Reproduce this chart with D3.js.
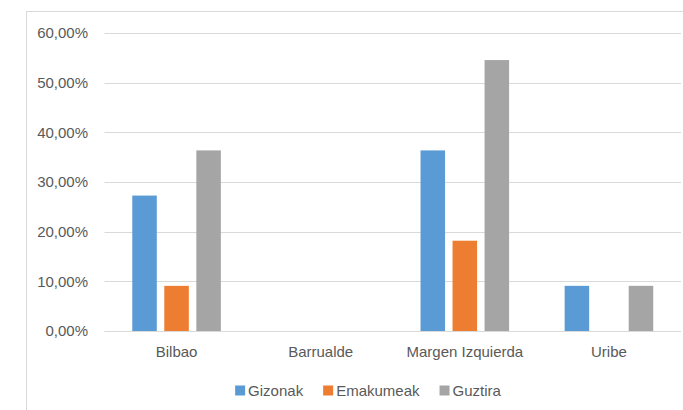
<!DOCTYPE html>
<html>
<head>
<meta charset="utf-8">
<script src="https://cdn.jsdelivr.net/npm/d3@7"></script>
<style>
  html, body { margin: 0; padding: 0; background: #ffffff; }
  svg { display: block; }
  text { font-family: "Liberation Sans", Arial, sans-serif; fill: #595959; }
</style>
</head>
<body>
<svg id="chart" width="683" height="410"></svg>
<script>
const categories = ["Bilbao", "Barrualde", "Margen Izquierda", "Uribe"];
const seriesNames = ["Gizonak", "Emakumeak", "Guztira"];
const gizonak   = [0.2727, 0, 0.3636, 0.0909];
const emakumeak = [0.0909, 0, 0.1818, 0];
const guztira   = [0.3636, 0, 0.5455, 0.0909];
const yTicks = [0, 0.1, 0.2, 0.3, 0.4, 0.5, 0.6];
const colors = ["#5B9BD5", "#ED7D31", "#A5A5A5"];

const seriesValues = [gizonak, emakumeak, guztira];

const svg = d3.select("#chart");
const W = 683, H = 410;
const plot = { left: 104.5, right: 681, top: 33, bottom: 331 };

// chart border (only left and top are visible in the frame)
svg.append("rect")
  .attr("x", 26.5).attr("y", 11.5)
  .attr("width", 720).attr("height", 430)
  .attr("fill", "none").attr("stroke", "#D9D9D9").attr("stroke-width", 1);

const x = d3.scaleBand().domain(categories).range([plot.left, plot.right]).padding(0);
const xs = d3.scaleBand().domain(seriesNames).range([0, x.bandwidth()])
  .paddingInner(0.234).paddingOuter(0.867);
const y = d3.scaleLinear().domain([0, 0.6]).range([plot.bottom, plot.top]);

const fmt = v => d3.format(".2f")(v * 100).replace(".", ",") + "%";

// gridlines
svg.append("g").selectAll("line").data(yTicks).join("line")
  .attr("x1", plot.left).attr("x2", plot.right)
  .attr("y1", d => Math.round(y(d)) + 0.5).attr("y2", d => Math.round(y(d)) + 0.5)
  .attr("stroke", "#D9D9D9").attr("stroke-width", 1);

// y axis labels
const yAxis = d3.axisLeft(y).tickValues(yTicks).tickFormat(fmt).tickSize(0).tickPadding(0);
const gy = svg.append("g").attr("transform", `translate(88,0)`).call(yAxis);
gy.select(".domain").remove();
gy.selectAll("text").attr("font-size", 15).attr("fill", "#595959")
  .attr("font-family", "Liberation Sans, Arial, sans-serif");

// bars
const data = [];
categories.forEach((c, i) => {
  seriesNames.forEach((s, j) => {
    data.push({ cat: c, series: s, value: seriesValues[j][i], color: colors[j] });
  });
});
svg.append("g").selectAll("rect").data(data.filter(d => d.value > 0)).join("rect")
  .attr("x", d => x(d.cat) + xs(d.series))
  .attr("width", xs.bandwidth())
  .attr("y", d => y(d.value))
  .attr("height", d => y(0) - y(d.value))
  .attr("fill", d => d.color);

// x axis baseline
svg.append("line")
  .attr("x1", plot.left).attr("x2", plot.right)
  .attr("y1", plot.bottom + 0.5).attr("y2", plot.bottom + 0.5)
  .attr("stroke", "#D9D9D9").attr("stroke-width", 1);

// x axis labels
const xAxis = d3.axisBottom(x).tickSize(0).tickPadding(0);
const gx = svg.append("g").attr("transform", `translate(0,346)`).call(xAxis);
gx.select(".domain").remove();
gx.selectAll("text").attr("font-size", 15).attr("fill", "#595959")
  .attr("font-family", "Liberation Sans, Arial, sans-serif")
  .attr("dy", "0.72em");

// legend
const legend = svg.append("g");
const items = legend.selectAll("g").data(seriesNames).join("g");
items.append("rect").attr("width", 10).attr("height", 10).attr("y", -10)
  .attr("fill", (d, i) => colors[i]);
items.append("text").attr("x", 13).attr("y", 0).attr("font-size", 15)
  .text(d => d);
let cx = 0;
items.each(function () {
  const g = d3.select(this);
  const w = 13 + g.select("text").node().getComputedTextLength();
  g.attr("transform", `translate(${cx},395.5)`);
  cx += w + 20;
});
const totalW = cx - 20;
legend.attr("transform", `translate(${368 - totalW / 2},0)`);
</script>
</body>
</html>
